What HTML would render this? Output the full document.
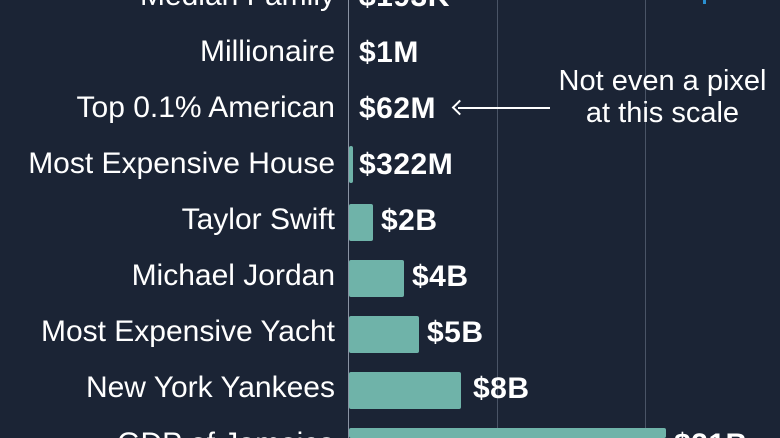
<!DOCTYPE html>
<html><head><style>
html,body{margin:0;width:780px;height:438px;overflow:hidden}
body{background:#1b2435;font-family:"Liberation Sans",sans-serif}
#c{position:relative;width:780px;height:438px;overflow:hidden}
.g{position:absolute;top:0;height:438px;width:1px;background:#4a5466}
.l{position:absolute;right:445px;color:#fff;font-size:30px;font-weight:300;white-space:nowrap;line-height:1}
.b{position:absolute;left:349px;height:37px;background:#6fb3a9;border-radius:2px}
.v{position:absolute;color:#fff;font-size:30px;font-weight:bold;line-height:1;letter-spacing:0.5px}
</style></head><body><div id="c">
<div class="g" style="left:348px;background:#8a93a3"></div>
<div class="g" style="left:497px"></div>
<div class="g" style="left:645px"></div>
<div class="l" style="top:-19px">Median Family</div><div class="v" style="left:359px;top:-18px">$193K</div>
<div class="l" style="top:37px">Millionaire</div><div class="v" style="left:359px;top:38px">$1M</div>
<div class="l" style="top:93px">Top 0.1% American</div><div class="v" style="left:359px;top:94px">$62M</div>
<div style="position:absolute;left:458px;top:107px;width:92px;height:2px;background:#fff"></div>
<div style="position:absolute;left:454px;top:102px;width:9px;height:9px;border-left:2px solid #fff;border-bottom:2px solid #fff;transform:rotate(45deg)"></div>
<div style="position:absolute;left:545px;top:65px;width:235px;text-align:center;color:#fff;font-size:29px;font-weight:300;line-height:32px">Not even a pixel<br>at this scale</div>
<div class="b" style="top:146px;width:4px"></div>
<div class="l" style="top:149px">Most Expensive House</div><div class="v" style="left:359px;top:150px">$322M</div>
<div class="b" style="top:204px;width:24px"></div>
<div class="l" style="top:205px">Taylor Swift</div><div class="v" style="left:381px;top:206px">$2B</div>
<div class="b" style="top:260px;width:55px"></div>
<div class="l" style="top:261px">Michael Jordan</div><div class="v" style="left:412px;top:262px">$4B</div>
<div class="b" style="top:316px;width:70px"></div>
<div class="l" style="top:317px">Most Expensive Yacht</div><div class="v" style="left:427px;top:318px">$5B</div>
<div class="b" style="top:372px;width:112px"></div>
<div class="l" style="top:373px">New York Yankees</div><div class="v" style="left:473px;top:374px">$8B</div>
<div class="b" style="top:428px;width:317px;height:10px"></div>
<div class="l" style="top:429px">GDP of Jamaica</div><div class="v" style="left:674px;top:430px">$21B</div>
<div style="position:absolute;left:703px;top:0;width:3px;height:4px;background:#2a8fd0"></div>
</div></body></html>
